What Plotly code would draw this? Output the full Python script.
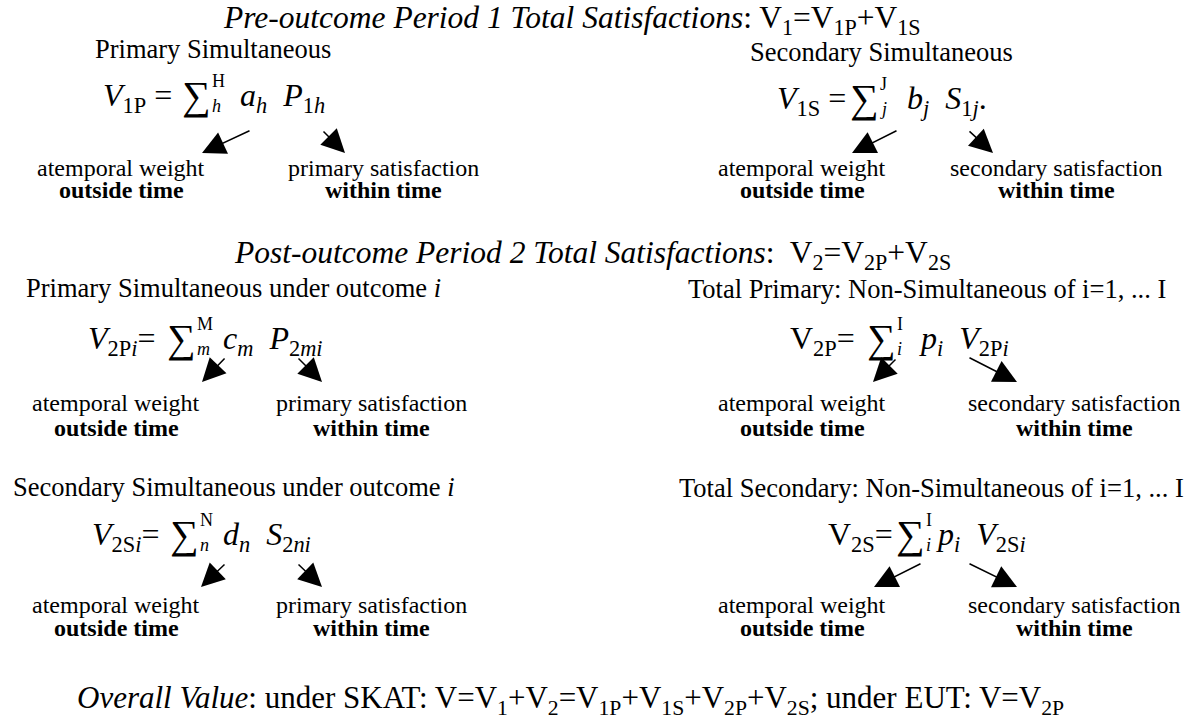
import plotly.graph_objects as go

FONT = "Liberation Serif, Times New Roman, serif"
BLACK = "#000000"

# ---------------- text content ----------------
section_titles = [
    "<i>Pre-outcome Period 1 Total Satisfactions</i>: V<sub>1</sub>=V<sub>1P</sub>+V<sub>1S</sub>",
    "<i>Post-outcome Period 2 Total Satisfactions</i>:\u00a0 V<sub>2</sub>=V<sub>2P</sub>+V<sub>2S</sub>",
]
overall_text = ("<i>Overall Value</i>: under SKAT: V=V<sub>1</sub>+V<sub>2</sub>=V<sub>1P</sub>+V<sub>1S</sub>"
                "+V<sub>2P</sub>+V<sub>2S</sub>; under EUT: V=V<sub>2P</sub>")

block_headings = [
    "Primary Simultaneous",
    "Secondary Simultaneous",
    "Primary Simultaneous under outcome <i>i</i>",
    "Total Primary: Non-Simultaneous of i=1, ... I",
    "Secondary Simultaneous under outcome <i>i</i>",
    "Total Secondary: Non-Simultaneous of i=1, ... I",
]
formula_lhs = [
    "<i>V</i><sub>1P</sub> =",
    "<i>V</i><sub>1S</sub> =",
    "<i>V</i><sub>2P<i>i</i></sub>=",
    "V<sub>2P</sub>=",
    "<i>V</i><sub>2S<i>i</i></sub>=",
    "V<sub>2S</sub>=",
]
sum_upper = ["H", "J", "M", "I", "N", "I"]
sum_lower = ["h", "j", "m", "i", "n", "i"]
formula_rhs = [
    "<i>a<sub>h</sub></i>\u00a0 <i>P</i><sub>1<i>h</i></sub>",
    "<i>b<sub>j</sub></i>\u00a0 <i>S</i><sub>1<i>j</i></sub>.",
    "<i>c<sub>m</sub></i>\u00a0 <i>P</i><sub>2<i>mi</i></sub>",
    "<i>p<sub>i</sub></i>\u00a0 <i>V</i><sub>2P<i>i</i></sub>",
    "<i>d<sub>n</sub></i>\u00a0 <i>S</i><sub>2<i>ni</i></sub>",
    "<i>p<sub>i</sub></i>\u00a0 <i>V</i><sub>2S<i>i</i></sub>",
]
weight_label = ["atemporal weight", "outside time"]
satisfaction_kind = ["primary", "secondary", "primary", "secondary", "primary", "secondary"]
satisfaction_sub = "within time"

# ---------------- layout geometry (pixels) ----------------
geom = [
    dict(hx=213, hy=49, fy=97, eq=174, sx=196, lx=210, rx=238,
         arrows=[(251, 130, 202, 153), (322, 130, 345, 153)], ly=(168, 190), wx=121, sxl=383),
    dict(hx=881, hy=52, fy=100, eq=848, sx=864, lx=878, rx=905,
         arrows=[(898, 130, 852, 153), (968, 130, 993, 153)], ly=(168, 190), wx=802, sxl=1056),
    dict(hx=233, hy=288, fy=340, eq=157, sx=181, lx=195, rx=221,
         arrows=[(226, 357, 202, 382), (297, 357, 322, 382)], ly=(403, 428), wx=116, sxl=371),
    dict(hx=927, hy=289, fy=340, eq=857, sx=881, lx=895, rx=917,
         arrows=[(897, 358, 873, 382), (968, 357, 1017, 382)], ly=(403, 428), wx=802, sxl=1074),
    dict(hx=234, hy=487, fy=536, eq=161, sx=184, lx=198, rx=221,
         arrows=[(226, 563, 201, 587), (297, 563, 322, 587)], ly=(605, 628), wx=116, sxl=371),
    dict(hx=931, hy=488, fy=536, eq=895, sx=910, lx=924, rx=934,
         arrows=[(922, 563, 874, 587), (968, 563, 1017, 587)], ly=(605, 628), wx=802, sxl=1074),
]
title_pos = [(572, 20), (592, 255)]
overall_pos = (570, 700)

TITLE_SIZE = 31.5
OVERALL_SIZE = 31
HEAD_SIZE = 26.5
LABEL_SIZE = 24
FORM_SIZE = 32
SIGMA_SIZE = 40
LIMIT_SIZE = 18

ann = []


def text(x, y, s, size, xanchor="center", yanchor="middle"):
    ann.append(dict(x=x, y=y, xref="x", yref="y", text=s, showarrow=False,
                    xanchor=xanchor, yanchor=yanchor,
                    font=dict(family=FONT, size=size, color=BLACK)))


for (tx, ty), t in zip(title_pos, section_titles):
    text(tx, ty, t, TITLE_SIZE)

text(overall_pos[0], overall_pos[1], overall_text, OVERALL_SIZE)

for i, g in enumerate(geom):
    text(g["hx"], g["hy"], block_headings[i], HEAD_SIZE)
    text(g["eq"], g["fy"], formula_lhs[i], FORM_SIZE, xanchor="right")
    text(g["sx"], g["fy"] - 2, "\u2211", SIGMA_SIZE)
    text(g["lx"], g["fy"] - 16, sum_upper[i], LIMIT_SIZE, xanchor="left")
    text(g["lx"], g["fy"] + 9, "<i>" + sum_lower[i] + "</i>", LIMIT_SIZE, xanchor="left")
    text(g["rx"], g["fy"], formula_rhs[i], FORM_SIZE, xanchor="left")
    text(g["wx"], g["ly"][0], weight_label[0], LABEL_SIZE)
    text(g["wx"], g["ly"][1], "<b>" + weight_label[1] + "</b>", LABEL_SIZE)
    text(g["sxl"], g["ly"][0], satisfaction_kind[i] + " satisfaction", LABEL_SIZE)
    text(g["sxl"], g["ly"][1], "<b>" + satisfaction_sub + "</b>", LABEL_SIZE)
    for (ax, ay, hx, hy) in g["arrows"]:
        ann.append(dict(x=hx, y=hy, ax=ax, ay=ay, xref="x", yref="y", axref="x", ayref="y",
                        text="", showarrow=True, arrowhead=2, arrowsize=3.1, arrowwidth=1.5,
                        arrowcolor=BLACK, standoff=0, startstandoff=0))

fig = go.Figure()
fig.add_trace(go.Scatter(x=[0], y=[0], mode="markers", marker=dict(opacity=0),
                         hoverinfo="skip", showlegend=False))
fig.update_layout(
    width=1195, height=720,
    margin=dict(l=0, r=0, t=0, b=0),
    paper_bgcolor="white", plot_bgcolor="white",
    xaxis=dict(range=[0, 1195], visible=False, fixedrange=True),
    yaxis=dict(range=[720, 0], visible=False, fixedrange=True),
    annotations=ann,
    showlegend=False,
)
fig.write_html("out.html", config={"displayModeBar": False, "staticPlot": True},
               post_script="document.body.style.margin='0';document.body.style.overflow='hidden';")
